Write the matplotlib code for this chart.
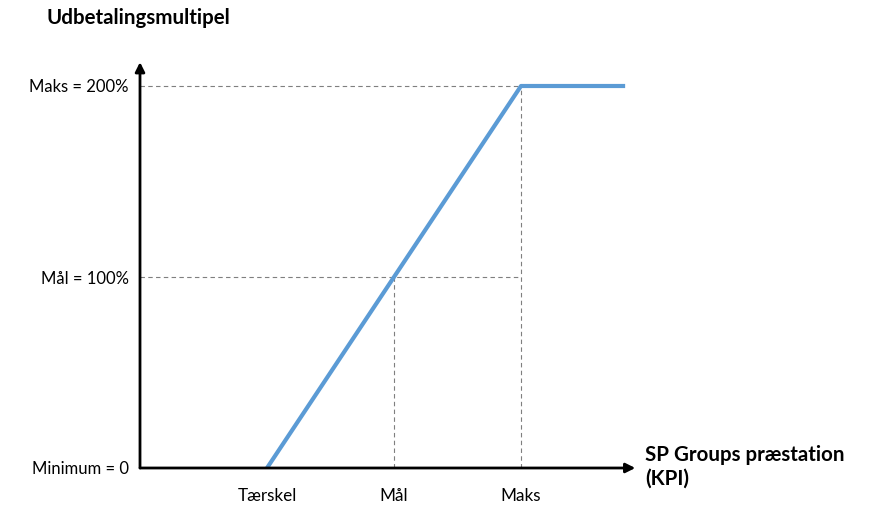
"""Payout multiple vs. KPI performance."""

import matplotlib
matplotlib.use('Agg')
import matplotlib.pyplot as plt

plt.rcParams['font.family'] = ['Lato', 'DejaVu Sans']

# data
kpi = [1, 2, 3, 3.82]
payout = [0, 100, 200, 200]
x_ticks = [1, 2, 3]
x_labels = ['Tærskel', 'Mål', 'Maks']
y_ticks = [0, 100, 200]
y_labels = ['Minimum = 0', 'Mål = 100%', 'Maks = 200%']

W, H = 872, 505
fig = plt.figure(figsize=(W / 100, H / 100), dpi=100)
x_max, y_max = 4.0, 215.0
px_x, px_y = 127.0, 1.91
ax = fig.add_axes([140 / W, 37 / H, x_max * px_x / W, y_max * px_y / H])
ax.set_xlim(0, x_max)
ax.set_ylim(0, y_max)
for s in ax.spines.values():
  s.set_visible(False)

# guide lines
grey = '#7f7f7f'
ax.plot([0, 3], [200, 200], color=grey, lw=0.8, ls=(0, (4, 3)))
ax.plot([0, 3], [100, 100], color=grey, lw=0.8, ls=(0, (4, 3)))
ax.plot([2, 2], [0, 100], color=grey, lw=0.8, ls=(0, (4, 3)))
ax.plot([3, 3], [0, 200], color=grey, lw=0.8, ls=(0, (4, 3)))

# payout curve
ax.plot(kpi, payout, color='#5b9bd5', lw=3, solid_capstyle='butt', zorder=3)

# arrow axes
arrow = dict(arrowstyle='-|>', color='black', lw=2, mutation_scale=14,
             shrinkA=0, shrinkB=0)
ax.annotate('', xy=(3.9, 0), xytext=(0, 0), arrowprops=arrow,
            annotation_clip=False, zorder=4)
ax.annotate('', xy=(0, 212.5), xytext=(0, 0), arrowprops=arrow,
            annotation_clip=False, zorder=4)

# ticks
ax.set_xticks(x_ticks)
ax.set_xticklabels(x_labels, fontsize=12.3)
ax.set_yticks(y_ticks)
ax.set_yticklabels(y_labels, fontsize=12)
ax.tick_params(axis='both', length=0)
ax.tick_params(axis='x', pad=14.5)
ax.tick_params(axis='y', pad=8)

# titles
fig.text(46 / W, 1 - 18 / H, 'Udbetalingsmultipel', fontsize=14.8,
         fontweight='bold', ha='left', va='center')
fig.text(645 / W, 1 - 467 / H, 'SP Groups præstation\n(KPI)', fontsize=14.8,
         fontweight='bold', ha='left', va='center', linespacing=1.2)

fig.savefig('out.png', dpi=100)
